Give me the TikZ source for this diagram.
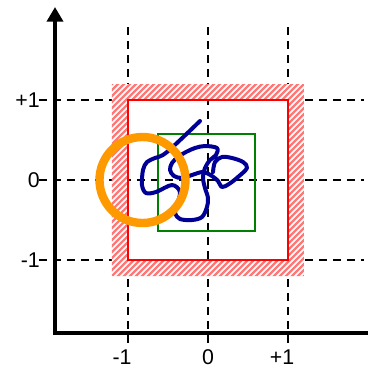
\documentclass[tikz,border=0pt]{standalone}
\usepackage{fontspec}
\setmainfont{Liberation Sans}
\usetikzlibrary{arrows.meta}
\definecolor{myorange}{RGB}{255,153,0}
\definecolor{mynavy}{RGB}{0,0,150}
\definecolor{mygreen}{RGB}{0,128,0}
\definecolor{hatchred}{RGB}{255,120,120}
\begin{document}
\begin{tikzpicture}[x=0.75pt,y=-0.75pt,
  gridline/.style={line width=1.3pt,dash pattern=on 6pt off 4.5pt},
  axisline/.style={line width=3pt},
  hatchline/.style={hatchred,line width=1.6pt},
  lab/.style={font=\fontsize{16}{18}\selectfont,inner sep=0pt}]
\useasboundingbox (0,0) rectangle (368,369);
% grid
\foreach \x in {128,208,288} \draw[gridline] (\x,27) -- (\x,345);
\foreach \y in {100,180,260} \draw[gridline] (39,\y) -- (364,\y);
% hatched band
\fill[white,even odd rule] (112,84) rectangle (304,276) (128,100) rectangle (288,260);
\begin{scope}[even odd rule]
\clip (112,84) rectangle (304,276) (128,100) rectangle (288,260);
\foreach \c in {190,196,...,590} \draw[hatchline] (\c,0) -- ({\c-400},400);
\end{scope}
\draw[red,line width=1.5pt] (128,100) rectangle (288,260);
% green square
\draw[mygreen,line width=1.5pt] (158,134) rectangle (255,231);
% blue curve
\draw[mynavy,line width=3pt,line cap=round,line join=round] plot[smooth,tension=0.55] coordinates {
(200,121) (167,152) (155,158) (147,162) (143,170) (142,185) (146,193) (156,192) (172,185)
(180,192) (177,205) (175,213) (180,219) (192,220) (202,217) (207,207) (208,198) (205,188)
(203,178) (205,168) (210,160) (216,155) (217,148) (205,146) (195,148) (186,152)
(178,157) (172,163) (170,170) (174,176) (182,178) (192,175) (203,172) (212,176) (218,181)
(222,187) (229,184) (238,177) (247,168) (243,162) (232,158) (222,157) (215,162) (213,172)};
% orange circle
\draw[myorange,line width=6.3pt] (142.5,180) circle[radius=43];
% axes
\coordinate (ybase) at (55,335);
\coordinate (ytip) at (55,7);
\coordinate (xbase) at (53,333);
\coordinate (xend) at (368,333);
\draw[axisline,-{Triangle[length=11pt,width=12pt]}] (ybase) -- (ytip);
\draw[axisline] (xbase) -- (xend);
% labels
\node[lab,anchor=east] (ly1) at (40,100) {+1};
\node[lab,anchor=east] (ly0) at (40,180) {0};
\node[lab,anchor=east] (lym) at (40,260) {-1};
\node[lab] (lxm) at (122,357) {-1};
\node[lab] (lx0) at (208,357) {0};
\node[lab] (lx1) at (282,357) {+1};
\end{tikzpicture}
\end{document}
